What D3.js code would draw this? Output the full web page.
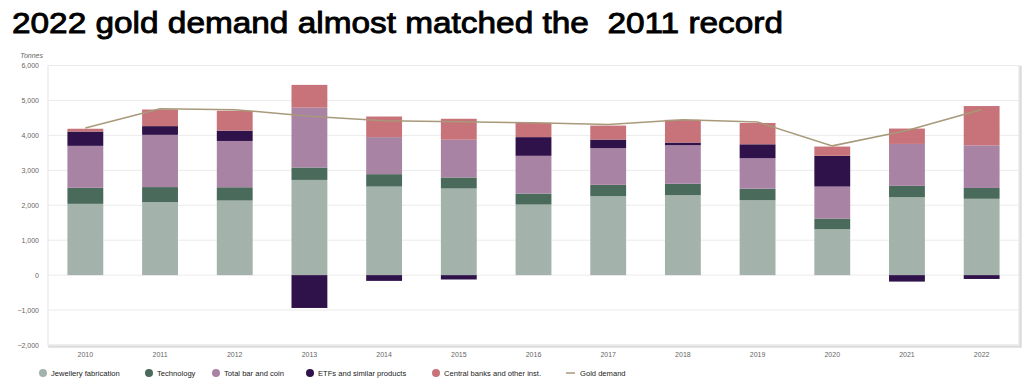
<!DOCTYPE html>
<html>
<head>
<meta charset="utf-8">
<script src="https://cdn.jsdelivr.net/npm/d3@7"></script>
<style>
  body { margin: 0; background: #fff; }
  svg { display: block; font-family: "Liberation Sans", Arial, sans-serif; }
</style>
</head>
<body>
<main></main>
<script>
const years = ['2010','2011','2012','2013','2014','2015','2016','2017','2018','2019','2020','2021','2022'];
const jewellery = [2040, 2090, 2135, 2725, 2535, 2480, 2020, 2260, 2290, 2145, 1315, 2230, 2185];
const technology = [460, 430, 380, 355, 355, 315, 315, 325, 325, 330, 305, 325, 310];
const barCoin = [1200, 1495, 1325, 1715, 1060, 1080, 1080, 1050, 1105, 870, 915, 1200, 1220];
const etfs = [410, 250, 295, -940, -165, -125, 535, 245, 75, 400, 880, -185, -110];
const centralBanks = [80, 475, 570, 650, 590, 600, 410, 400, 650, 610, 265, 440, 1125];
const goldDemand = [4210, 4760, 4735, 4550, 4420, 4390, 4360, 4310, 4450, 4380, 3700, 4140, 4740];
const yTicks = [-2000, -1000, 0, 1000, 2000, 3000, 4000, 5000, 6000];

const seriesNames = ['Jewellery fabrication', 'Technology', 'Total bar and coin', 'ETFs and similar products', 'Central banks and other inst.'];
const seriesValues = [jewellery, technology, barCoin, etfs, centralBanks];
const colors = ['#a3b2aa', '#4a6a5b', '#a883a4', '#30124a', '#c8737a'];
const lineColor = '#a8997a';

const W = 1024, H = 386;
const svg = d3.select('main').append('svg').attr('width', W).attr('height', H);

const plotL = 48, plotR = 1019, plotT = 65.5, plotB = 345;
const x = d3.scaleBand().domain(years).range([plotL, plotR]).paddingInner(0.52).paddingOuter(0.26);
const y = d3.scaleLinear().domain([-2000, 6000]).range([plotB, plotT]);

// title
svg.append('text')
  .attr('x', 12).attr('y', 33)
  .attr('font-size', 30).attr('fill', '#000')
  .attr('stroke', '#000').attr('stroke-width', 0.9)
  .attr('textLength', 771).attr('lengthAdjust', 'spacingAndGlyphs')
  .style('white-space', 'pre')
  .text('2022 gold demand almost matched the  2011 record');

// frame with shadow
svg.append('rect')
  .attr('x', plotL + 1.5).attr('y', plotT + 1.5).attr('width', plotR - plotL).attr('height', plotB - plotT)
  .attr('fill', 'none').attr('stroke', '#dcdcdc').attr('stroke-width', 2.5);
svg.append('rect')
  .attr('x', plotL).attr('y', plotT).attr('width', plotR - plotL).attr('height', plotB - plotT)
  .attr('fill', '#fff').attr('stroke', '#e4e4e4').attr('stroke-width', 1);

// grid
svg.append('g').selectAll('line').data(yTicks).join('line')
  .attr('x1', plotL).attr('x2', plotR)
  .attr('y1', d => y(d)).attr('y2', d => y(d))
  .attr('stroke', '#ebebeb').attr('stroke-width', 1);

// y labels
svg.append('g').selectAll('text').data(yTicks).join('text')
  .attr('x', 39).attr('y', d => y(d) + 2.5)
  .attr('text-anchor', 'end').attr('font-size', 7).attr('fill', '#666')
  .text(d => d3.format(',')(d));

svg.append('text').attr('x', 43).attr('y', 58).attr('text-anchor', 'end')
  .attr('font-size', 7).attr('font-style', 'italic').attr('fill', '#666').text('Tonnes');

// stacked bars (positive and negative separately)
const stackData = years.map((yr, i) => {
  const o = { year: yr };
  seriesNames.forEach((s, j) => { o[s] = seriesValues[j][i]; });
  return o;
});
const stack = d3.stack().keys(seriesNames).offset(d3.stackOffsetDiverging)(stackData);

svg.append('g').selectAll('g').data(stack).join('g')
  .attr('fill', (d, i) => colors[i])
  .selectAll('rect').data(d => d).join('rect')
  .attr('x', d => x(d.data.year))
  .attr('width', x.bandwidth())
  .attr('y', d => y(Math.max(d[0], d[1])))
  .attr('height', d => Math.abs(y(d[0]) - y(d[1])));

// gold demand line
const line = d3.line().x((d, i) => x(years[i]) + x.bandwidth() / 2).y(d => y(d));
svg.append('path').datum(goldDemand)
  .attr('d', line).attr('fill', 'none').attr('stroke', lineColor).attr('stroke-width', 1.5);

// x labels
svg.append('g').selectAll('text').data(years).join('text')
  .attr('x', d => x(d) + x.bandwidth() / 2).attr('y', 356.5)
  .attr('text-anchor', 'middle').attr('font-size', 7).attr('fill', '#666')
  .text(d => d);

// legend
const legendX = [43, 149, 216, 310, 436];
const lg = svg.append('g');
seriesNames.forEach((s, i) => {
  lg.append('circle').attr('cx', legendX[i]).attr('cy', 373).attr('r', 4).attr('fill', colors[i]);
  lg.append('text').attr('x', legendX[i] + 8).attr('y', 375.8)
    .attr('font-size', 7.6).attr('fill', '#222').text(s);
});
lg.append('line').attr('x1', 566).attr('x2', 575).attr('y1', 373).attr('y2', 373)
  .attr('stroke', lineColor).attr('stroke-width', 1.5);
lg.append('text').attr('x', 580).attr('y', 375.8).attr('font-size', 7.6).attr('fill', '#222').text('Gold demand');
</script>
</body>
</html>
